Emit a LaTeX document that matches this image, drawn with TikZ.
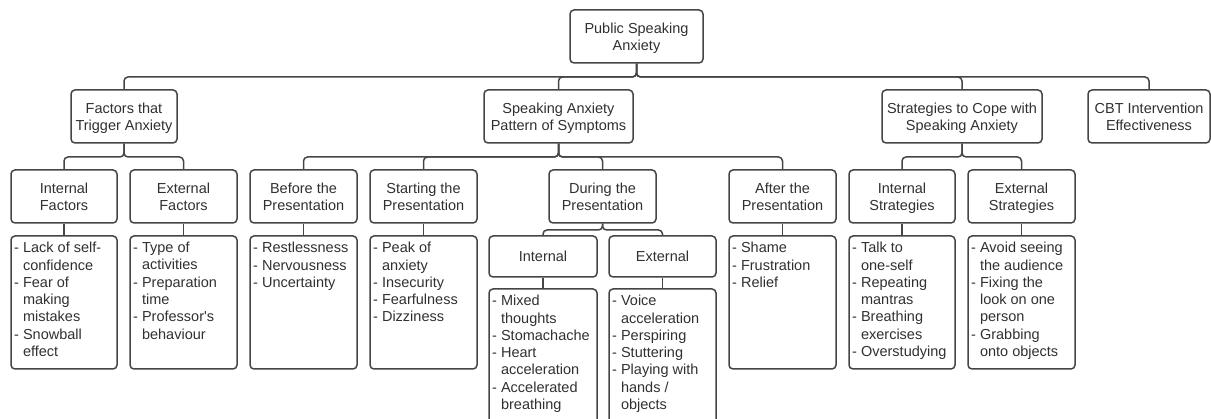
\documentclass[tikz,border=0pt]{standalone}
\usepackage{fontspec}
\setmainfont{Liberation Sans}[Ligatures=TeXOff]
\definecolor{ln}{HTML}{454545}
\definecolor{txt}{HTML}{303030}
\newcommand{\hg}{\hphantom{- }}
\tikzset{
  box/.style={draw=ln, line width=1.5pt, rounded corners=4pt, inner sep=0pt, align=center,
    font=\fontsize{14.5}{17.3}\selectfont, text=txt},
  hbox/.style={box, minimum height=53pt, text depth=0pt},
  lbox/.style={box, minimum width=107pt, minimum height=133pt},
  conn/.style={draw=ln, line width=1.5pt, rounded corners=4pt},
  lt/.style={anchor=north west, inner sep=0pt, align=left,
    font=\fontsize{14.5}{17.3}\selectfont, text=txt}
}
\begin{document}
\begin{tikzpicture}[x=1pt,y=-1pt]
\useasboundingbox (0,0) rectangle (1211,419);
\clip (0,0) rectangle (1211,419);
% level 1
\node[hbox, minimum width=133pt] (root) at (636.5,36.5) {Public Speaking\\Anxiety};
% level 2
\node[hbox, minimum width=106pt] (factors) at (124,116.5) {Factors that\\Trigger Anxiety};
\node[hbox, minimum width=149pt] (sympt) at (558.5,116.5) {Speaking Anxiety\\Pattern of Symptoms};
\node[hbox, minimum width=160pt] (strat) at (962,116.5) {Strategies to Cope with\\Speaking Anxiety};
\node[hbox, minimum width=122pt] (cbt) at (1149,116.5) {CBT Intervention\\Effectiveness};
% level 3
\node[hbox, minimum width=106pt] (intf) at (64,196.5) {Internal\\Factors};
\node[hbox, minimum width=107pt] (extf) at (183.5,196.5) {External\\Factors};
\node[hbox, minimum width=107pt] (before) at (303.5,196.5) {Before the\\Presentation};
\node[hbox, minimum width=107pt] (start) at (423.5,196.5) {Starting the\\Presentation};
\node[hbox, minimum width=107pt] (during) at (602.5,196.5) {During the\\Presentation};
\node[hbox, minimum width=107pt] (after) at (782.5,196.5) {After the\\Presentation};
\node[hbox, minimum width=106pt] (intstr) at (902,196.5) {Internal\\Strategies};
\node[hbox, minimum width=107pt] (extstr) at (1021.5,196.5) {External\\Strategies};
% during sub
\node[box, minimum width=108pt, minimum height=41pt] (dint) at (543,256.5) {Internal};
\node[box, minimum width=107pt, minimum height=41pt] (dext) at (662.5,256.5) {External};
% list boxes
\node[lbox, minimum width=106pt] (intfl) at (64,302.5) {};
\node[lbox] (extfl) at (183.5,302.5) {};
\node[lbox] (beforel) at (303.5,302.5) {};
\node[lbox] (startl) at (423.5,302.5) {};
\node[lbox] (afterl) at (782.5,302.5) {};
\node[lbox, minimum width=106pt] (intstrl) at (902,302.5) {};
\node[lbox] (extstrl) at (1021.5,302.5) {};
\node[box, minimum width=108pt, minimum height=150pt] (dintl) at (543,364) {};
\node[box, minimum width=107pt, minimum height=150pt] (dextl) at (662.5,364) {};
% list texts
\node[lt] (intft) at (14,242) {- Lack of self-\\\hg confidence\\- Fear of\\\hg making\\\hg mistakes\\- Snowball\\\hg effect};
\node[lt] (extft) at (133,242) {- Type of\\\hg activities\\- Preparation\\\hg time\\- Professor's\\\hg behaviour};
\node[lt] (beforet) at (253,242) {- Restlessness\\- Nervousness\\- Uncertainty};
\node[lt] (startt) at (373,242) {- Peak of\\\hg anxiety\\- Insecurity\\- Fearfulness\\- Dizziness};
\node[lt] (aftert) at (732,242) {- Shame\\- Frustration\\- Relief};
\node[lt] (intstrt) at (852,242) {- Talk to\\\hg one-self\\- Repeating\\\hg mantras\\- Breathing\\\hg exercises\\- Overstudying};
\node[lt] (extstrt) at (971,242) {- Avoid seeing\\\hg the audience\\- Fixing the\\\hg look on one\\\hg person\\- Grabbing\\\hg onto objects};
\node[lt] (dintt) at (492,295) {- Mixed\\\hg thoughts\\- Stomachache\\- Heart\\\hg acceleration\\- Accelerated\\\hg breathing};
\node[lt] (dextt) at (612,295) {- Voice\\\hg acceleration\\- Perspiring\\- Stuttering\\- Playing with\\\hg hands /\\\hg objects};
% bus coordinates
\coordinate (b1) at (0,77);
\coordinate (b2) at (0,157);
\coordinate (b3) at (0,230);
% connectors
\foreach \c in {factors,sympt,strat,cbt}
  \draw[conn] (root.south) -- (root.south |- b1) -| (\c.north);
\foreach \c in {intf,extf}
  \draw[conn] (factors.south) -- (factors.south |- b2) -| (\c.north);
\foreach \c in {before,start,during,after}
  \draw[conn] (sympt.south) -- (sympt.south |- b2) -| (\c.north);
\foreach \c in {intstr,extstr}
  \draw[conn] (strat.south) -- (strat.south |- b2) -| (\c.north);
\foreach \c in {dint,dext}
  \draw[conn] (during.south) -- (during.south |- b3) -| (\c.north);
\foreach \a/\b in {intf/intfl,extf/extfl,before/beforel,start/startl,after/afterl,intstr/intstrl,extstr/extstrl,dint/dintl,dext/dextl}
  \draw[conn] (\a.south) -- (\b.north);
\end{tikzpicture}
\end{document}
